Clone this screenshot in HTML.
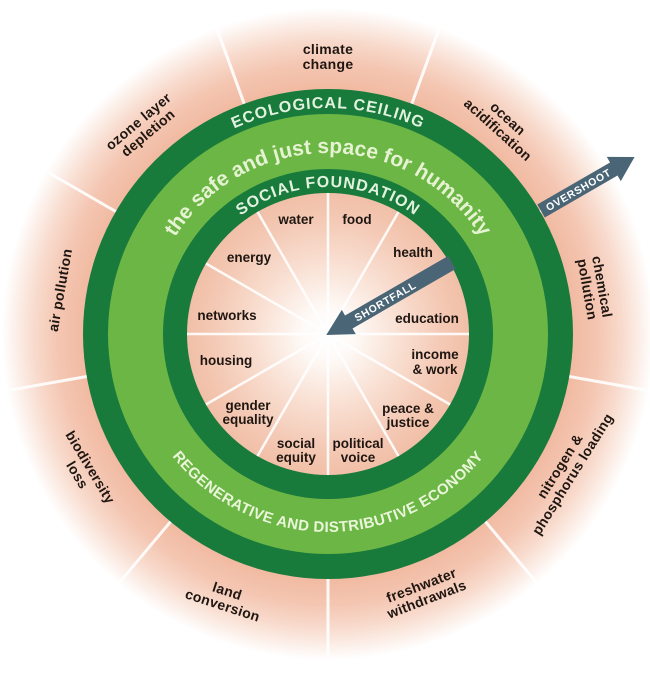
<!DOCTYPE html>
<html>
<head>
<meta charset="utf-8">
<style>
  html,body{margin:0;padding:0;background:#fff;}
  svg{display:block;}
  .lab{font-family:"Liberation Sans",Arial,sans-serif;font-weight:bold;font-size:14px;fill:#1f1611;}
  .inn{font-family:"Liberation Sans",Arial,sans-serif;font-weight:bold;font-size:13.5px;fill:#1f1611;}
  .arr{font-family:"Liberation Sans",Arial,sans-serif;font-weight:bold;font-size:10.5px;fill:#ffffff;letter-spacing:0.7px;}
  .band{font-family:"Liberation Sans",Arial,sans-serif;font-weight:bold;}
</style>
</head>
<body>
<svg width="650" height="677" viewBox="0 0 650 677" xmlns="http://www.w3.org/2000/svg">
  <defs>
    <radialGradient id="outerG" gradientUnits="userSpaceOnUse" cx="328" cy="334" r="326">
      <stop offset="0" stop-color="#f1baa1"/>
      <stop offset="0.75" stop-color="#f1baa1"/>
      <stop offset="0.83" stop-color="#f4c6b2"/>
      <stop offset="0.9" stop-color="#f8dacc"/>
      <stop offset="0.96" stop-color="#fcf0ea"/>
      <stop offset="1" stop-color="#ffffff"/>
    </radialGradient>
    <radialGradient id="innerG" gradientUnits="userSpaceOnUse" cx="328" cy="334" r="141">
      <stop offset="0" stop-color="#ffffff"/>
      <stop offset="0.18" stop-color="#fefaf7"/>
      <stop offset="0.5" stop-color="#f9e0d3"/>
      <stop offset="0.8" stop-color="#f4cab6"/>
      <stop offset="1" stop-color="#f1bfa7"/>
    </radialGradient>
    <path id="pSafe" d="M 147,334 A 181 181 0 0 1 509,334"/>
    <path id="pEco" d="M 102,334 A 226 226 0 0 1 554,334"/>
    <path id="pSoc" d="M 181,334 A 147 147 0 0 1 475,334"/>
    <path id="pReg" d="M 130,334 A 198 198 0 0 0 526,334"/>
  </defs>

  <rect x="0" y="0" width="650" height="677" fill="#ffffff"/>
  <circle cx="328" cy="334" r="326" fill="url(#outerG)"/>

  <!-- outer dividers -->
  <g stroke="#ffffff" stroke-width="3" stroke-linecap="round" opacity="0.9">
    <line x1="411.8" y1="103.8" x2="442.6" y2="19.2"/>
    <line x1="540.2" y1="211.5" x2="618.1" y2="166.5"/>
    <line x1="569.3" y1="376.5" x2="657.9" y2="392.2"/>
    <line x1="485.5" y1="521.7" x2="543.3" y2="590.6"/>
    <line x1="328" y1="579" x2="328" y2="669"/>
    <line x1="170.5" y1="521.7" x2="112.7" y2="590.6"/>
    <line x1="86.7" y1="376.5" x2="-1.9" y2="392.2"/>
    <line x1="115.8" y1="211.5" x2="37.9" y2="166.5"/>
    <line x1="244.2" y1="103.8" x2="213.4" y2="19.2"/>
  </g>

  <!-- rings -->
  <circle cx="328" cy="334" r="245" fill="#187a3b"/>
  <circle cx="328" cy="334" r="220" fill="#6cb645"/>
  <circle cx="328" cy="334" r="165" fill="#187a3b"/>
  <circle cx="328" cy="334" r="141" fill="url(#innerG)"/>

  <!-- inner spokes -->
  <g stroke="#ffffff" stroke-width="2.5" opacity="0.9">
    <line x1="328" y1="334" x2="328" y2="193"/>
    <line x1="328" y1="334" x2="398.5" y2="211.9"/>
    <line x1="328" y1="334" x2="450.1" y2="263.5"/>
    <line x1="328" y1="334" x2="469" y2="334"/>
    <line x1="328" y1="334" x2="450.1" y2="404.5"/>
    <line x1="328" y1="334" x2="398.5" y2="456.1"/>
    <line x1="328" y1="334" x2="328" y2="475"/>
    <line x1="328" y1="334" x2="257.5" y2="456.1"/>
    <line x1="328" y1="334" x2="205.9" y2="404.5"/>
    <line x1="328" y1="334" x2="187" y2="334"/>
    <line x1="328" y1="334" x2="205.9" y2="263.5"/>
    <line x1="328" y1="334" x2="257.5" y2="211.9"/>
  </g>

  <!-- ring texts -->
  <text class="band" font-size="16" fill="#e2f2df" letter-spacing="1"><textPath href="#pEco" startOffset="50%" text-anchor="middle">ECOLOGICAL CEILING</textPath></text>
  <text class="band" font-size="21" fill="#e6f3d2"><textPath href="#pSafe" startOffset="50%" text-anchor="middle">the safe and just space for humanity</textPath></text>
  <text class="band" font-size="16" fill="#e2f2df" letter-spacing="1"><textPath href="#pSoc" startOffset="50%" text-anchor="middle">SOCIAL FOUNDATION</textPath></text>
  <text class="band" font-size="15" fill="#eaf6da" letter-spacing="0.4"><textPath href="#pReg" startOffset="50%" text-anchor="middle">REGENERATIVE AND DISTRIBUTIVE ECONOMY</textPath></text>

  <!-- arrows -->
  <g transform="translate(328 334) rotate(-30)">
    <polygon points="246,-7.5 330,-7.5 330,-14 354,0 330,14 330,7.5 246,7.5" fill="#4a6576"/>
    <text class="arr" x="289" y="4" text-anchor="middle">OVERSHOOT</text>
    <polygon points="-2,0 24,-14 24,-7.5 143,-7.5 143,7.5 24,7.5 24,14" fill="#4a6576"/>
    <text class="arr" x="66" y="4" text-anchor="middle">SHORTFALL</text>
  </g>

  <!-- inner labels -->
  <g class="inn" text-anchor="middle">
    <text x="296" y="224">water</text>
    <text x="357" y="224">food</text>
    <text x="249" y="262">energy</text>
    <text x="413" y="257">health</text>
    <text x="227" y="320">networks</text>
    <text x="427" y="323">education</text>
    <text x="226" y="365">housing</text>
    <text><tspan x="435" y="359">income</tspan><tspan x="435" y="374">&amp; work</tspan></text>
    <text><tspan x="248" y="410">gender</tspan><tspan x="248" y="424">equality</tspan></text>
    <text><tspan x="408" y="413">peace &amp;</tspan><tspan x="408" y="427">justice</tspan></text>
    <text><tspan x="296" y="448">social</tspan><tspan x="296" y="462">equity</tspan></text>
    <text><tspan x="358" y="448">political</tspan><tspan x="358" y="462">voice</tspan></text>
  </g>

  <!-- outer labels -->
  <g class="lab" text-anchor="middle" letter-spacing="0.3">
    <text transform="translate(328 57)"><tspan x="0" y="-3">climate</tspan><tspan x="0" y="12">change</tspan></text>
    <text transform="translate(503 124) rotate(42)"><tspan x="0" y="-2.5">ocean</tspan><tspan x="0" y="12.5">acidification</tspan></text>
    <text transform="translate(595 288) rotate(80)"><tspan x="0" y="-2.5">chemical</tspan><tspan x="0" y="12.5">pollution</tspan></text>
    <text transform="translate(566 470) rotate(-58)"><tspan x="0" y="-2.5">nitrogen &amp;</tspan><tspan x="0" y="12.5">phosphorus loading</tspan></text>
    <text transform="translate(424 592) rotate(-21)"><tspan x="0" y="-2.5">freshwater</tspan><tspan x="0" y="12.5">withdrawals</tspan></text>
    <text transform="translate(225 598) rotate(18)"><tspan x="0" y="-2.5">land</tspan><tspan x="0" y="12.5">conversion</tspan></text>
    <text transform="translate(84 471) rotate(59)"><tspan x="0" y="-2.5">biodiversity</tspan><tspan x="0" y="12.5">loss</tspan></text>
    <text transform="translate(60 290) rotate(-80)"><tspan x="0" y="5">air pollution</tspan></text>
    <text transform="translate(143 127) rotate(-40)"><tspan x="0" y="-2.5">ozone layer</tspan><tspan x="0" y="12.5">depletion</tspan></text>
  </g>
</svg>
</body>
</html>
